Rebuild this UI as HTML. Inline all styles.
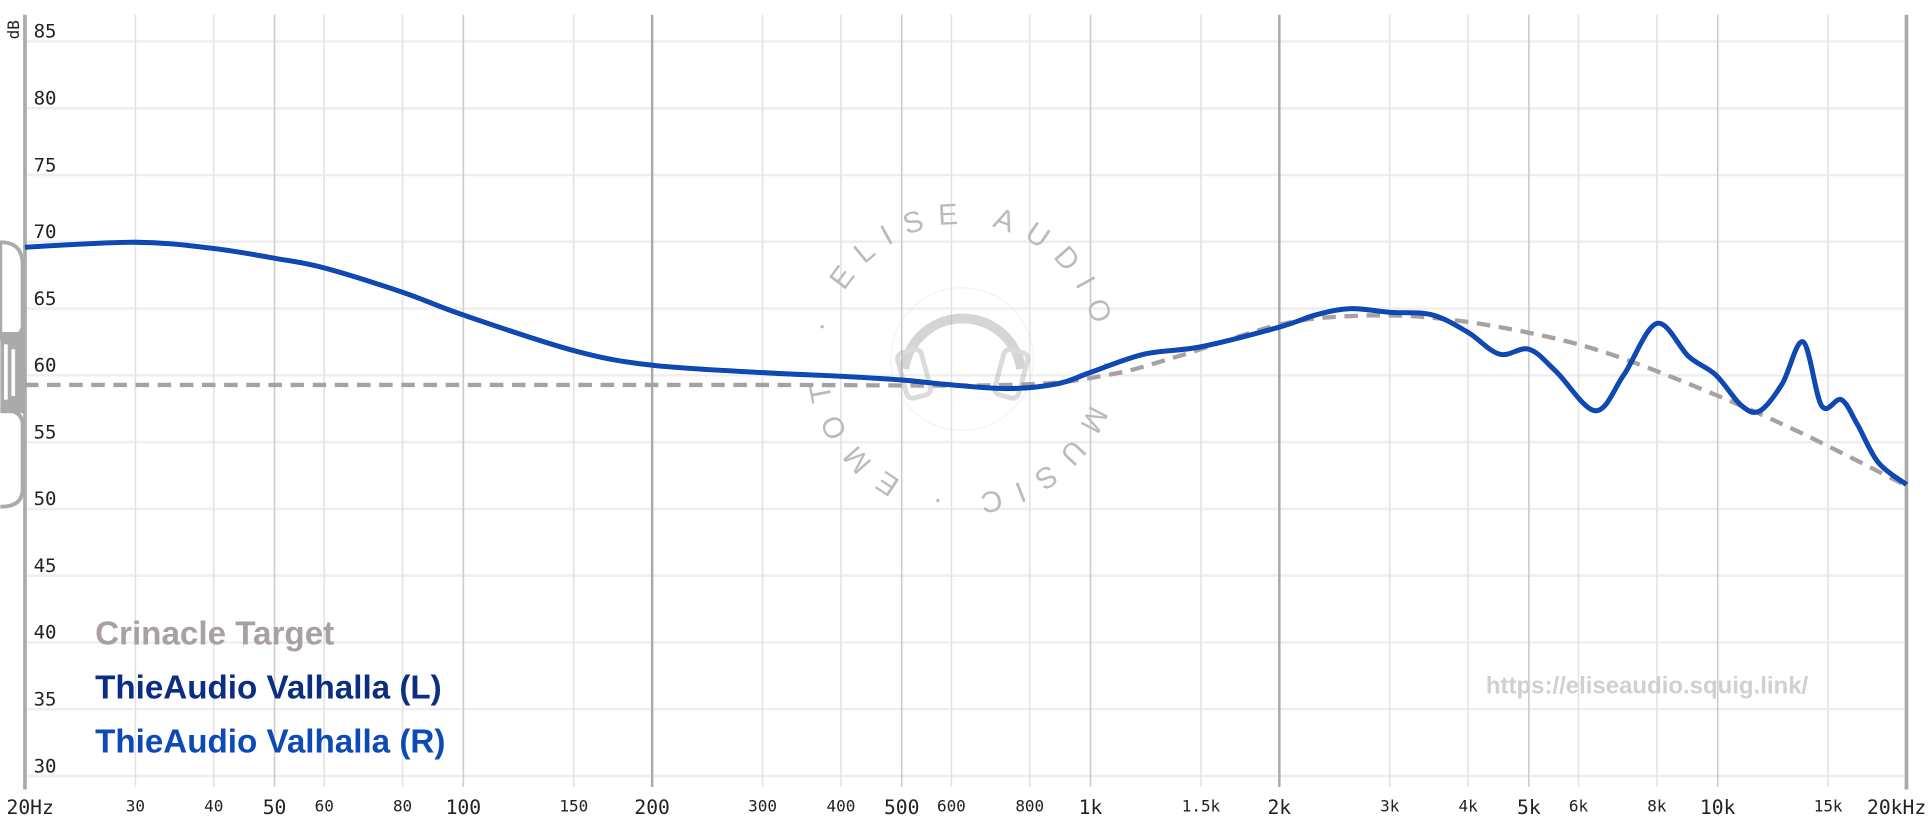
<!DOCTYPE html>
<html><head><meta charset="utf-8"><style>
html,body{margin:0;padding:0;background:#fff;width:1929px;height:835px;overflow:hidden}
svg{display:block}
.t{font-family:"DejaVu Sans Mono","Liberation Mono",monospace;fill:#222}
</style></head><body>
<svg id="s" width="1929" height="835" viewBox="0 0 1568 679" xmlns="http://www.w3.org/2000/svg">
<g id="grid"></g>
<!-- watermark -->
<g opacity="0.35" fill="none" stroke="#999">
<circle cx="782" cy="292" r="58" stroke="#ddd" stroke-width="1"/>
<path d="M735 300 A48 48 0 0 1 830 300" stroke="#888" stroke-width="8"/>
<rect x="733" y="285" width="20" height="38" rx="5" stroke-width="4" transform="rotate(-15 743 304)"/>
<rect x="812" y="285" width="20" height="38" rx="5" stroke-width="4" transform="rotate(15 822 304)"/>
</g>
<defs><path id="cp" d="M672 292 A110 110 0 1 1 892 292 A110 110 0 1 1 672 292"/></defs>
<text font-family="Liberation Sans,sans-serif" font-size="24" fill="#bbb" letter-spacing="11"><textPath href="#cp" startOffset="3%">· ELISE AUDIO · MUSIC · EMOTION</textPath></text>
<!-- left decoration -->
<g fill="#aaa">
<path d="M0 197 Q18 197 18 215 L18 265 Q18 275 0 275 Z" fill="none" stroke="#aaa" stroke-width="3"/>
<path d="M0 333 Q18 333 18 345 L18 398 Q18 412 0 412" fill="none" stroke="#aaa" stroke-width="3"/>
<rect x="0" y="270" width="20" height="66"/>
<rect x="3" y="280" width="3" height="45" fill="#fff"/>
<rect x="9" y="284" width="3" height="38" fill="#fff"/>
</g>
<g id="curves"></g>
<text class="t" x="0" y="0" font-size="13" transform="translate(15,32) rotate(-90)">dB</text>
<g font-family="Liberation Sans,sans-serif" font-weight="bold" font-size="27">
<text x="77" y="524" fill="#a9a0a3">Crinacle Target</text>
<text x="77" y="568" fill="#0b2d82">ThieAudio Valhalla (L)</text>
<text x="77" y="612" fill="#0c4ab8">ThieAudio Valhalla (R)</text>
</g>
<text x="1208" y="564" font-family="Liberation Sans,sans-serif" font-weight="bold" font-size="19.5" fill="#d0d0d0">https://eliseaudio.squig.link/</text>
</svg>
<script>
var NS="http://www.w3.org/2000/svg";
function el(p,t,a,txt){var e=document.createElementNS(NS,t);for(var k in a)e.setAttribute(k,a[k]);if(txt)e.textContent=txt;p.appendChild(e);return e;}
var g=document.getElementById('grid');
function X(f){return 20+510*Math.log10(f/20);}
function Y(d){return 33.7+(85-d)/5*54.3;}
for(var d=85;d>=30;d-=5){el(g,'line',{x1:20,x2:1550,y1:Y(d),y2:Y(d),stroke:'#eee','stroke-width':2});
el(g,'text',{class:'t',x:27,y:Y(d)-3,'font-size':15.5},String(d));}
var fr=[30,40,50,60,80,100,150,200,300,400,500,600,800,1000,1500,2000,3000,4000,5000,6000,8000,10000,15000];
var lab={30:'30',40:'40',50:'50',60:'60',80:'80',100:'100',150:'150',200:'200',300:'300',400:'400',500:'500',600:'600',800:'800',1000:'1k',1500:'1.5k',2000:'2k',3000:'3k',4000:'4k',5000:'5k',6000:'6k',8000:'8k',10000:'10k',15000:'15k'};
var big={50:1,100:1,200:1,500:1,1000:1,2000:1,5000:1,10000:1};
fr.forEach(function(f){var x=X(f);var c=(f==200||f==2000)?'#aaa':(f==100||f==1000||f==10000||f==50||f==500||f==5000)?'#ccc':'#e3e3e3';
el(g,'line',{x1:x,x2:x,y1:12,y2:640,stroke:c,'stroke-width':(f==200||f==2000)?2:1.3});
el(g,'text',{class:'t',x:x,y:big[f]?662:660,'font-size':big[f]?16:13,'text-anchor':'middle'},lab[f]);});
el(g,'line',{x1:20,x2:20,y1:12,y2:642,stroke:'#aaa','stroke-width':3});
el(g,'line',{x1:1550,x2:1550,y1:12,y2:642,stroke:'#aaa','stroke-width':3});
el(g,'text',{class:'t',x:5,y:662,'font-size':16},'20Hz');
el(g,'text',{class:'t',x:1566,y:662,'font-size':16,'text-anchor':'end'},'20kHz');
function path(p){var s='M'+p[0][0]+' '+p[0][1];for(var i=0;i<p.length-1;i++){var a=p[i-1]||p[i],b=p[i],c=p[i+1],d=p[i+2]||c;
s+=' C'+(b[0]+(c[0]-a[0])/6)+' '+(b[1]+(c[1]-a[1])/6)+' '+(c[0]-(d[0]-b[0])/6)+' '+(c[1]-(d[1]-b[1])/6)+' '+c[0]+' '+c[1];}return s;}
var cv=document.getElementById('curves');
var tg=[[20,313],[600,313],[820,313],[900,305],[960,289],[1040,264],[1098,257],[1160,258],[1230,268],[1300,285],[1380,315],[1460,350],[1550,395]];
el(cv,'path',{d:path(tg),fill:'none',stroke:'#a9a0a3','stroke-width':3.5,'stroke-dasharray':'11 7'});
var b=[[20,201],[110,197],[173,202],[223,210],[264,218],[328,238],[376,256],[466,285],[530,297],[620,303],[684,306],[733,309],[774,313],[820,316],[860,312],[886,303],[930,288],[976,282],[1040,266],[1070,256],[1098,251],[1130,254],[1164,256],[1193,270],[1219,288],[1243,284],[1265,302],[1297,334],[1320,305],[1347,263],[1373,290],[1395,305],[1416,330],[1431,334],[1449,312],[1466,278],[1481,330],[1497,325],[1510,345],[1527,376],[1550,394]];
el(cv,'path',{d:path(b),fill:'none',stroke:'#0b2d82','stroke-width':4});
el(cv,'path',{d:path(b),fill:'none',stroke:'#0c4ab8','stroke-width':3.4});
</script>
</body></html>
